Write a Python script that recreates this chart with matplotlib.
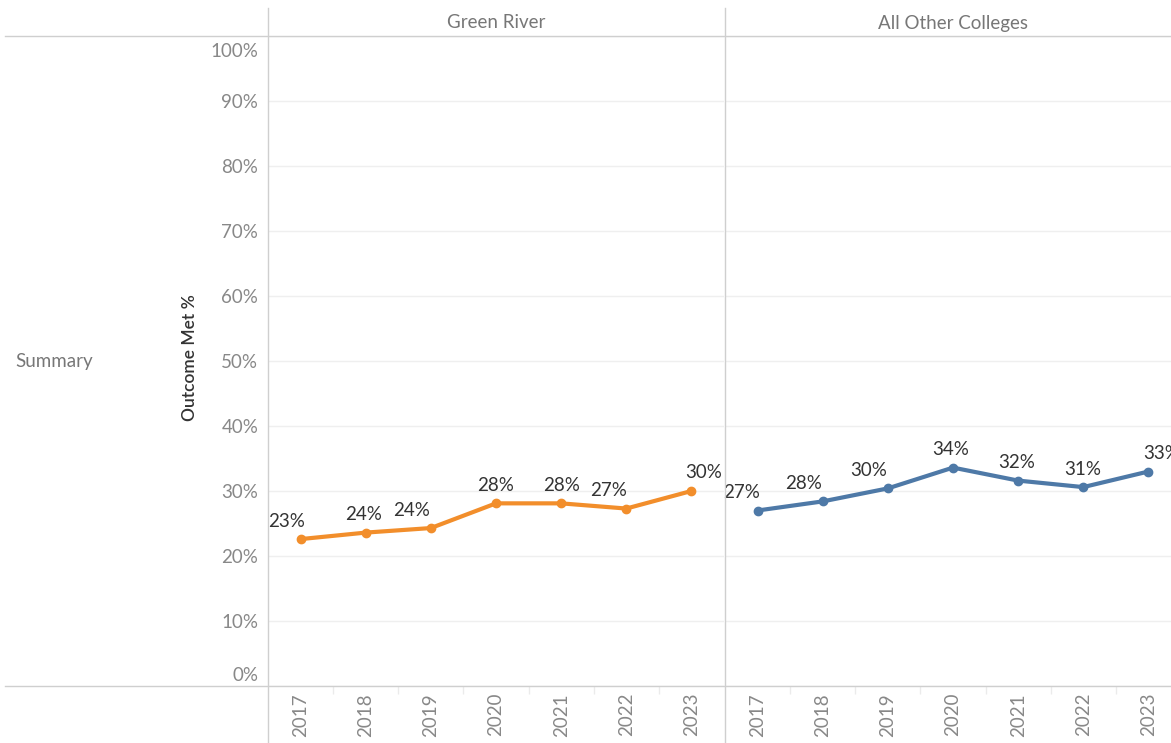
import numpy as np
import matplotlib
matplotlib.use('Agg')
import matplotlib.pyplot as plt
from matplotlib.lines import Line2D
from matplotlib.transforms import ScaledTranslation

# Data
years = ['2017', '2018', '2019', '2020', '2021', '2022', '2023']
green_river = [22.6, 23.6, 24.3, 28.1, 28.1, 27.3, 30.0]
other_colleges = [27.0, 28.4, 30.4, 33.6, 31.6, 30.6, 33.0]
panel_names = ['Green River', 'All Other Colleges']
y_ticks = list(range(0, 101, 10))

# label nudges (pixels) to mimic the Tableau label placement
green_label_dx = [-14, -2, -19, 0, 0, -18, 12]
other_label_dx = [-16, -19, -19, -2, -1, -1, 13]

plt.rcParams['font.family'] = ['Lato', 'DejaVu Sans']

W, H = 1171, 743
fig = plt.figure(figsize=(W / 100, H / 100), dpi=100)


def box(left, top, right, bottom):
    return [left / W, 1 - bottom / H, (right - left) / W, (bottom - top) / H]


ax1 = fig.add_axes(box(268, 36, 724, 686))
ax2 = fig.add_axes(box(725, 36, 1181, 686))

series = [(ax1, green_river, '#F28E2B', green_label_dx),
          (ax2, other_colleges, '#4E79A7', other_label_dx)]

x = np.arange(len(years))
for ax, vals, color, dxs in series:
    ax.plot(x, vals, color=color, lw=3, marker='o', ms=6,
            solid_joinstyle='round', zorder=3)
    for xi, v, dx in zip(x, vals, dxs):
        ax.annotate(f'{v:.0f}%', (xi, v), xytext=(dx, 18),
                    textcoords='offset pixels', ha='center', va='center',
                    fontsize=13.5, color='#333333')
    ax.set_xlim(-0.5, len(years) - 0.5)
    ax.set_ylim(0, 100)
    ax.set_yticks(y_ticks)
    ax.grid(axis='y', color='#efefef', lw=1)
    ax.set_axisbelow(True)
    for s in ax.spines.values():
        s.set_visible(False)
    ax.set_xticks(x)
    ax.set_xticklabels(years, rotation=90)
    ax.set_xticks(np.arange(0.5, len(years) - 1), minor=True)
    ax.tick_params(axis='x', which='major', length=0, pad=5,
                   labelsize=13.5, labelcolor='#888888')
    ax.tick_params(axis='x', which='minor', length=6, width=1,
                   color='#ebebeb')
    ax.tick_params(axis='y', length=0)

ax1.set_yticklabels([f'{t}%' for t in y_ticks])
ax1.tick_params(axis='y', pad=7, labelsize=13.5, labelcolor='#888888')
ylabels = ax1.get_yticklabels()
# Tableau pulls the end labels inside the pane
ylabels[0].set_transform(ylabels[0].get_transform()
                         + ScaledTranslation(0, 12 / 100, fig.dpi_scale_trans))
ylabels[-1].set_transform(ylabels[-1].get_transform()
                          + ScaledTranslation(0, -14 / 100, fig.dpi_scale_trans))
ax2.set_yticklabels([])

# panel headers
fig.text(496 / W, 1 - 23 / H, panel_names[0], ha='center', va='center',
         fontsize=13.5, color='#777777')
fig.text(953 / W, 1 - 23 / H, panel_names[1], ha='center', va='center',
         fontsize=13.5, color='#777777')

fig.text(15 / W, 1 - 362 / H, 'Summary', ha='left', va='center',
         fontsize=13.5, color='#777777')
fig.text(190 / W, 1 - 358 / H, 'Outcome Met %', ha='center', va='center',
         rotation=90, fontsize=12.5, fontweight='semibold', color='#333333')

# table borders
line_color = '#cfcfcf'
for xp in (268, 724.5):
    fig.add_artist(Line2D([xp / W, xp / W], [1 - 8 / H, 0], color=line_color, lw=1))
for yp in (36, 686):
    fig.add_artist(Line2D([5 / W, 1], [1 - yp / H, 1 - yp / H], color=line_color, lw=1))

fig.savefig('out.png', dpi=100)
